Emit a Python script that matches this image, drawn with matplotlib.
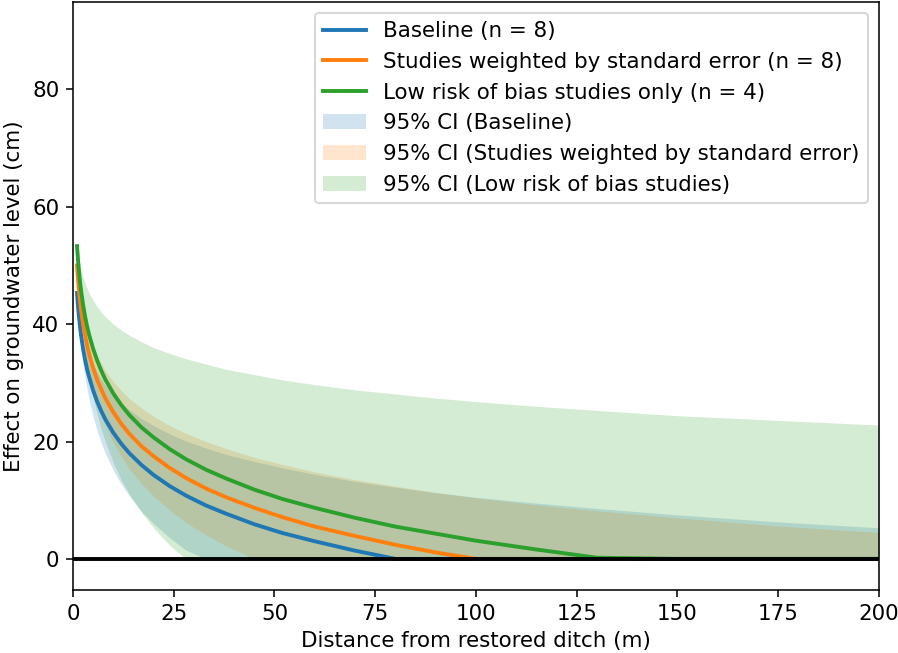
import numpy as np
import matplotlib
matplotlib.use('Agg')
import matplotlib.pyplot as plt

# distance from ditch (m)
distance = [1, 1.25, 1.5, 1.75, 2, 2.5, 3, 3.5, 4, 5, 6, 7, 8, 10, 12, 14, 17, 20, 24, 28,
            33, 38, 45, 52, 60, 70, 80, 90, 100, 115, 130, 150, 175, 200]

baseline = [45.3, 43.0, 41.1, 39.5, 38.1, 35.8, 33.9, 32.3, 31.0, 28.7, 26.8, 25.2, 23.8, 21.5, 19.6, 18.0, 16.0, 14.3, 12.4, 10.8,
            9.1, 7.7, 5.9, 4.4, 3.0, 1.4, 0, 0, 0, 0, 0, 0, 0, 0]
baseline_hi = [45.3, 43.6, 42.2, 41.1, 40.1, 38.4, 37.0, 35.8, 34.8, 33.2, 31.8, 30.6, 29.6, 27.9, 26.5, 25.4, 23.9, 22.7, 21.3, 20.1,
               18.9, 17.8, 16.6, 15.5, 14.4, 13.2, 12.2, 11.3, 10.5, 9.5, 8.6, 7.5, 6.3, 5.3]
baseline_lo = [45.3, 42.4, 40.0, 38.0, 36.2, 33.3, 30.9, 28.9, 27.1, 24.2, 21.8, 19.8, 18.0, 15.1, 12.7, 10.7, 8.1, 6.0, 3.6, 1.5,
               0, 0, 0, 0, 0, 0, 0, 0, 0, 0, 0, 0, 0, 0]

weighted = [50.0, 47.6, 45.6, 43.9, 42.5, 40.0, 38.1, 36.4, 34.9, 32.5, 30.5, 28.9, 27.4, 25.0, 23.0, 21.3, 19.2, 17.5, 15.5, 13.8,
            12.0, 10.5, 8.7, 7.1, 5.5, 3.9, 2.4, 1.1, 0, 0, 0, 0, 0, 0]
weighted_hi = [50.0, 48.1, 46.5, 45.2, 44.0, 42.1, 40.6, 39.2, 38.1, 36.2, 34.6, 33.3, 32.1, 30.2, 28.7, 27.3, 25.7, 24.3, 22.7, 21.4,
               20.0, 18.8, 17.3, 16.1, 14.8, 13.5, 12.4, 11.3, 10.4, 9.2, 8.2, 7.0, 5.6, 4.5]
weighted_lo = [50.0, 47.1, 44.7, 42.7, 40.9, 38.0, 35.6, 33.6, 31.8, 28.9, 26.5, 24.5, 22.7, 19.8, 17.4, 15.3, 12.8, 10.7, 8.3, 6.2,
               4.1, 2.2, 0, 0, 0, 0, 0, 0, 0, 0, 0, 0, 0, 0]

lowrisk = [53.3, 50.9, 48.9, 47.2, 45.7, 43.3, 41.3, 39.6, 38.2, 35.8, 33.8, 32.1, 30.6, 28.2, 26.2, 24.5, 22.4, 20.7, 18.7, 17.0,
           15.2, 13.7, 11.8, 10.2, 8.7, 7.0, 5.5, 4.3, 3.1, 1.6, 0.2, 0, 0, 0]
lowrisk_hi = [53.3, 52.0, 51.0, 50.1, 49.3, 48.0, 47.0, 46.1, 45.3, 44.0, 43.0, 42.1, 41.3, 40.0, 39.0, 38.1, 37.0, 36.0, 35.0, 34.1,
              33.2, 32.3, 31.4, 30.5, 29.7, 28.8, 28.1, 27.4, 26.8, 26.0, 25.3, 24.4, 23.6, 22.8]
lowrisk_lo = [53.3, 49.7, 46.8, 44.3, 42.2, 38.6, 35.7, 33.2, 31.1, 27.5, 24.6, 22.1, 20.0, 16.4, 13.4, 11.0, 7.9, 5.3, 2.3, 0,
              0, 0, 0, 0, 0, 0, 0, 0, 0, 0, 0, 0, 0, 0]


def main():
    plt.rcParams['font.size'] = 11
    fig = plt.figure(figsize=(898/140, 653/140), dpi=140)
    ax = fig.add_axes([0.0813, 0.0965, 0.8975, 0.9005])

    ax.plot(distance, baseline, color='C0', lw=2, label='Baseline (n = 8)')
    ax.plot(distance, weighted, color='C1', lw=2, label='Studies weighted by standard error (n = 8)')
    ax.plot(distance, lowrisk, color='C2', lw=2, label='Low risk of bias studies only (n = 4)')

    ax.fill_between(distance, baseline_lo, baseline_hi, color='C0', alpha=0.2, lw=0,
                    label='95% CI (Baseline)')
    ax.fill_between(distance, weighted_lo, weighted_hi, color='C1', alpha=0.2, lw=0,
                    label='95% CI (Studies weighted by standard error)')
    ax.fill_between(distance, lowrisk_lo, lowrisk_hi, color='C2', alpha=0.2, lw=0,
                    label='95% CI (Low risk of bias studies)')

    ax.axhline(0, color='black', lw=2)

    ax.set_xlim(0, 200)
    ax.set_ylim(-5.3, 94.9)
    ax.set_xticks([0, 25, 50, 75, 100, 125, 150, 175, 200])
    ax.set_yticks([0, 20, 40, 60, 80])
    ax.set_xlabel('Distance from restored ditch (m)')
    ax.set_ylabel('Effect on groundwater level (cm)')
    ax.legend(loc='upper right')

    fig.savefig('out.png', dpi=140)


if __name__ == '__main__':
    main()
